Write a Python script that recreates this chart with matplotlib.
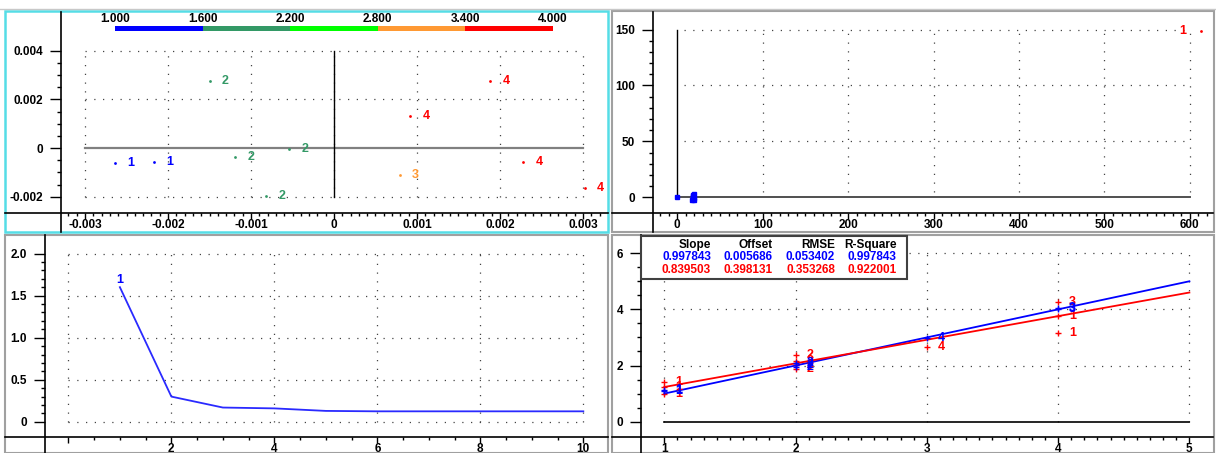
import numpy as np
import matplotlib
matplotlib.use("Agg")
import matplotlib.pyplot as plt
from matplotlib.lines import Line2D
from matplotlib.patches import Rectangle
from matplotlib.ticker import FixedLocator, FuncFormatter

plt.rcParams['font.family'] = ['Liberation Sans', 'DejaVu Sans']
plt.rcParams['font.weight'] = 'bold'
plt.rcParams['axes.unicode_minus'] = False

W, H = 1216, 453

# --- top left: scores coloured by class ---
cbar_vals = [1.0, 1.6, 2.2, 2.8, 3.4, 4.0]
cbar_cols = ['#0000ff', '#339966', '#00ff00', '#ff9933', '#ff0000']
sc_x = [-0.00264, -0.00217, -0.00150, -0.00119, -0.00054, -0.00082,
        0.00079, 0.00188, 0.00092, 0.00228, 0.00302]
sc_y = [-0.00062, -0.00059, 0.00275, -0.00038, -0.00002, -0.00196,
        -0.00111, 0.00275, 0.00131, -0.00059, -0.00163]
sc_cls = [1, 1, 2, 2, 2, 2, 3, 4, 4, 4, 4]

# --- top right: influence ---
inf_x = [0, 17.5, 18.0, 18.5, 19.0, 19.5, 18.2, 19.2]
inf_y = [0, -2.0, 2.5, 0.5, -1.0, 3.0, 1.5, -2.5]
out_x = [613]
out_y = [149]
out_lab = ['1']

# --- bottom left: residual variance ---
pcs = [1, 2, 3, 4, 5, 6, 7, 8, 9, 10]
resvar = [1.60, 0.30, 0.17, 0.16, 0.13, 0.125, 0.125, 0.125, 0.125, 0.125]

# --- bottom right: predicted vs reference ---
blue_x = [1, 1, 2, 2, 2, 3, 4, 4]
blue_y = [1.08, 1.13, 1.95, 2.02, 2.08, 2.97, 4.0, 4.06]
blue_lab = ['1', '1', '2', '2', '2', '4', '3', '3']
red_x = [1, 1, 1, 2, 2, 2, 2, 3, 4, 4, 4]
red_y = [1.42, 1.25, 1.0, 2.36, 2.17, 2.03, 1.89, 2.67, 4.27, 3.75, 3.15]
red_lab = ['1', '1', '1', '2', '2', '2', '2', '4', '3', '1', '1']
fit_slope = [0.997843, 0.839503]
fit_offset = [0.005686, 0.398131]
fit_rmse = [0.053402, 0.353268]
fit_r2 = [0.997843, 0.922001]
fit_cols = ['#0000ff', '#ff0000']

fig = plt.figure(figsize=(W / 100, H / 100), dpi=100)
fig.patch.set_facecolor('white')


def add_ax(x0, y0, x1, y1):
    return fig.add_axes([x0 / W, 1 - y1 / H, (x1 - x0) / W, (y1 - y0) / H])


def fline(xs, ys, **kw):
    fig.add_artist(Line2D([x / W for x in xs], [1 - y / H for y in ys],
                          transform=fig.transFigure, **kw))


def style(ax, xmaj, xmin, ymaj, ymin, xfmt, yfmt):
    for s in ax.spines.values():
        s.set_visible(False)
    ax.patch.set_visible(False)
    ax.xaxis.set_major_locator(FixedLocator(xmaj))
    ax.xaxis.set_minor_locator(FixedLocator(xmin))
    ax.yaxis.set_major_locator(FixedLocator(ymaj))
    ax.yaxis.set_minor_locator(FixedLocator(ymin))
    ax.xaxis.set_major_formatter(FuncFormatter(xfmt))
    ax.yaxis.set_major_formatter(FuncFormatter(yfmt))
    ax.tick_params(axis='y', which='major', length=8, width=1, pad=5, labelsize=8.5)
    ax.tick_params(axis='y', which='minor', length=3, width=1)
    ax.tick_params(axis='x', which='major', length=4, width=1, pad=0.5, labelsize=8.5)
    ax.tick_params(axis='x', which='minor', length=2, width=1)


def dgrid(ax, xs, ys, xr, yr):
    for x in xs:
        ax.plot([x, x], yr, color='#444444', ls=(0, (1, 6)), lw=0.9)
    for y in ys:
        ax.plot(xr, [y, y], color='#444444', ls=(0, (1, 6)), lw=0.9)


def f3(v, p):
    return '0' if abs(v) < 1e-9 else f'{v:.3f}'


def fint(v, p):
    return f'{v:.0f}'


# ---------------- top left ----------------
ax1 = add_ax(61, 12, 607, 213)
ax1.set_xlim(-0.00329, 0.00329)
ax1.set_ylim(-0.00267, 0.00559)
style(ax1, np.arange(-0.003, 0.0031, 0.001), np.arange(-0.0032, 0.00325, 0.0001),
      np.arange(-0.002, 0.0041, 0.002), np.arange(-0.002, 0.0041, 0.0005), f3, f3)
dgrid(ax1, np.arange(-0.003, 0.0031, 0.001), [-0.002, 0.002, 0.004],
      (-0.003, 0.003), (-0.002, 0.004))
ax1.plot([-0.003, 0.003], [0, 0], color='#808080', lw=1.6)
ax1.plot([0, 0], [-0.002, 0.004], color='black', lw=1)
for x, y, c in zip(sc_x, sc_y, sc_cls):
    col = cbar_cols[min(int((c - 1) / 0.6), 4)]
    ax1.plot(x, y, 'o', ms=2, color=col, mec='none')
    ax1.annotate(str(c), (x, y), xytext=(9, 0), textcoords='offset points',
                 ha='left', va='center', color=col, fontsize=9, fontweight='bold')

cax = add_ax(115, 26, 553, 31)
cax.set_xlim(cbar_vals[0], cbar_vals[-1])
cax.set_ylim(0, 1)
cax.axis('off')
for i, c in enumerate(cbar_cols):
    cax.barh(0.5, cbar_vals[i + 1] - cbar_vals[i], left=cbar_vals[i], height=1,
             color=c, edgecolor='none')
for v in cbar_vals:
    cax.text(v, 1.3, f'{v:.3f}', transform=cax.get_xaxis_transform(),
             ha='center', va='bottom', fontsize=8.5, fontweight='bold')

# ---------------- top right ----------------
ax2 = add_ax(653, 12, 1213, 213)
ax2.set_xlim(-28.4, 627)
ax2.set_ylim(-14, 165.7)
style(ax2, np.arange(0, 601, 100), np.arange(-20, 621, 10),
      np.arange(0, 151, 50), np.arange(0, 151, 10), fint, fint)
dgrid(ax2, np.arange(100, 601, 100), [50, 100, 150], (8, 600), (5, 150))
ax2.plot([0, 0], [0, 150], color='black', lw=1)
ax2.plot([0, 600], [0, 0], color='#505050', lw=1.4)
ax2.plot(inf_x, inf_y, 's', ms=3.5, color='#0000ff', mec='#0000ff')
ax2.plot(out_x, out_y, 'o', ms=2, color='#ff0000', mec='none', clip_on=False)
for x, y, t in zip(out_x, out_y, out_lab):
    ax2.annotate(t, (x, y), xytext=(-11, 0), textcoords='offset points',
                 ha='right', va='center', color='#ff0000', fontsize=9,
                 fontweight='bold', annotation_clip=False)

# ---------------- bottom left ----------------
ax3 = add_ax(44.7, 235, 607, 437)
ax3.set_xlim(-0.46, 10.46)
ax3.set_ylim(-0.18, 2.22)
style(ax3, np.arange(0, 11, 2), np.arange(0, 10.1, 0.5),
      np.arange(0, 2.01, 0.5), np.arange(0, 2.01, 0.1),
      lambda v, p: '' if abs(v) < 1e-9 else f'{v:g}',
      lambda v, p: '0' if abs(v) < 1e-9 else f'{v:.1f}')
dgrid(ax3, np.arange(0, 11, 2), np.arange(0, 2.01, 0.5), (0, 10), (0, 2.0))
ax3.plot(pcs, resvar, color='#2a2aff', lw=1.3)
ax3.annotate('1', (pcs[0], resvar[0]), xytext=(0, 1), textcoords='offset points',
             ha='center', va='bottom', color='#0000ff', fontsize=9, fontweight='bold')

# ---------------- bottom right ----------------
ax4 = add_ax(641, 235, 1213, 437)
ax4.set_xlim(0.822, 5.18)
ax4.set_ylim(-0.54, 6.64)
style(ax4, np.arange(1, 6, 1), np.arange(1, 5.01, 0.1),
      np.arange(0, 7, 2), np.arange(0, 6.01, 0.5), fint, fint)
dgrid(ax4, np.arange(1, 6, 1), [2, 4, 6], (1, 5), (0, 6))
ax4.plot([1, 5], [0, 0], color='black', lw=1.2)
xr = np.array([1.0, 5.0])
for s, o, c in zip(fit_slope, fit_offset, fit_cols):
    ax4.plot(xr, s * xr + o, color=c, lw=1.3)
for xs, ys, labs, c in [(red_x, red_y, red_lab, '#ff0000'),
                        (blue_x, blue_y, blue_lab, '#0000ff')]:
    ax4.plot(xs, ys, '+', ms=4, mew=1, color=c)
    for x, y, t in zip(xs, ys, labs):
        ax4.annotate(t, (x, y), xytext=(8, 0), textcoords='offset points',
                     ha='left', va='center', color=c, fontsize=9, fontweight='bold')

# stats table
fig.add_artist(Rectangle((641 / W, 1 - 279.3 / H), (906.7 - 641) / W, (279.3 - 236) / H,
                         transform=fig.transFigure, facecolor='white',
                         edgecolor='#404040', lw=1.5, zorder=5))
heads = ['Slope', 'Offset', 'RMSE', 'R-Square']
col_right = [711, 772.7, 835, 896.7]
rows = [list(r) for r in zip(fit_slope, fit_offset, fit_rmse, fit_r2)]
for xr_, h in zip(col_right, heads):
    fig.text(xr_ / W, 1 - 244.7 / H, h, ha='right', va='center', fontsize=8.5,
             fontweight='bold', color='black', zorder=6)
for ri, (row, c) in enumerate(zip(rows, fit_cols)):
    for xr_, v in zip(col_right, row):
        fig.text(xr_ / W, 1 - (257 + 12.7 * ri) / H, f'{v:.6f}', ha='right',
                 va='center', fontsize=8.5, fontweight='bold', color=c, zorder=6)

# axis lines spanning whole panels
for xs, ys in [([61, 61], [12, 232]), ([5, 608], [213, 213]),
               ([653, 653], [12, 232]), ([612, 1213], [213, 213]),
               ([44.7, 44.7], [235, 453]), ([5, 608], [437, 437]),
               ([641, 641], [235, 453]), ([612, 1213], [437, 437])]:
    fline(xs, ys, color='black', lw=1.2)

# panel frames
fline([0, W], [9, 9], color='#c8c8c8', lw=1)
for (x0, y0, x1, y1) in [(612, 11, 1214, 232), (5, 235, 608, 453), (612, 235, 1214, 453)]:
    fig.add_artist(Rectangle((x0 / W, 1 - y1 / H), (x1 - x0) / W, (y1 - y0) / H,
                             transform=fig.transFigure, fill=False,
                             edgecolor='#a0a0a0', lw=1.5))
fig.add_artist(Rectangle((5 / W, 1 - 232 / H), 603 / W, 221 / H,
                         transform=fig.transFigure, fill=False,
                         edgecolor='#55dde6', lw=1.8))

fig.savefig('out.png', dpi=100)
